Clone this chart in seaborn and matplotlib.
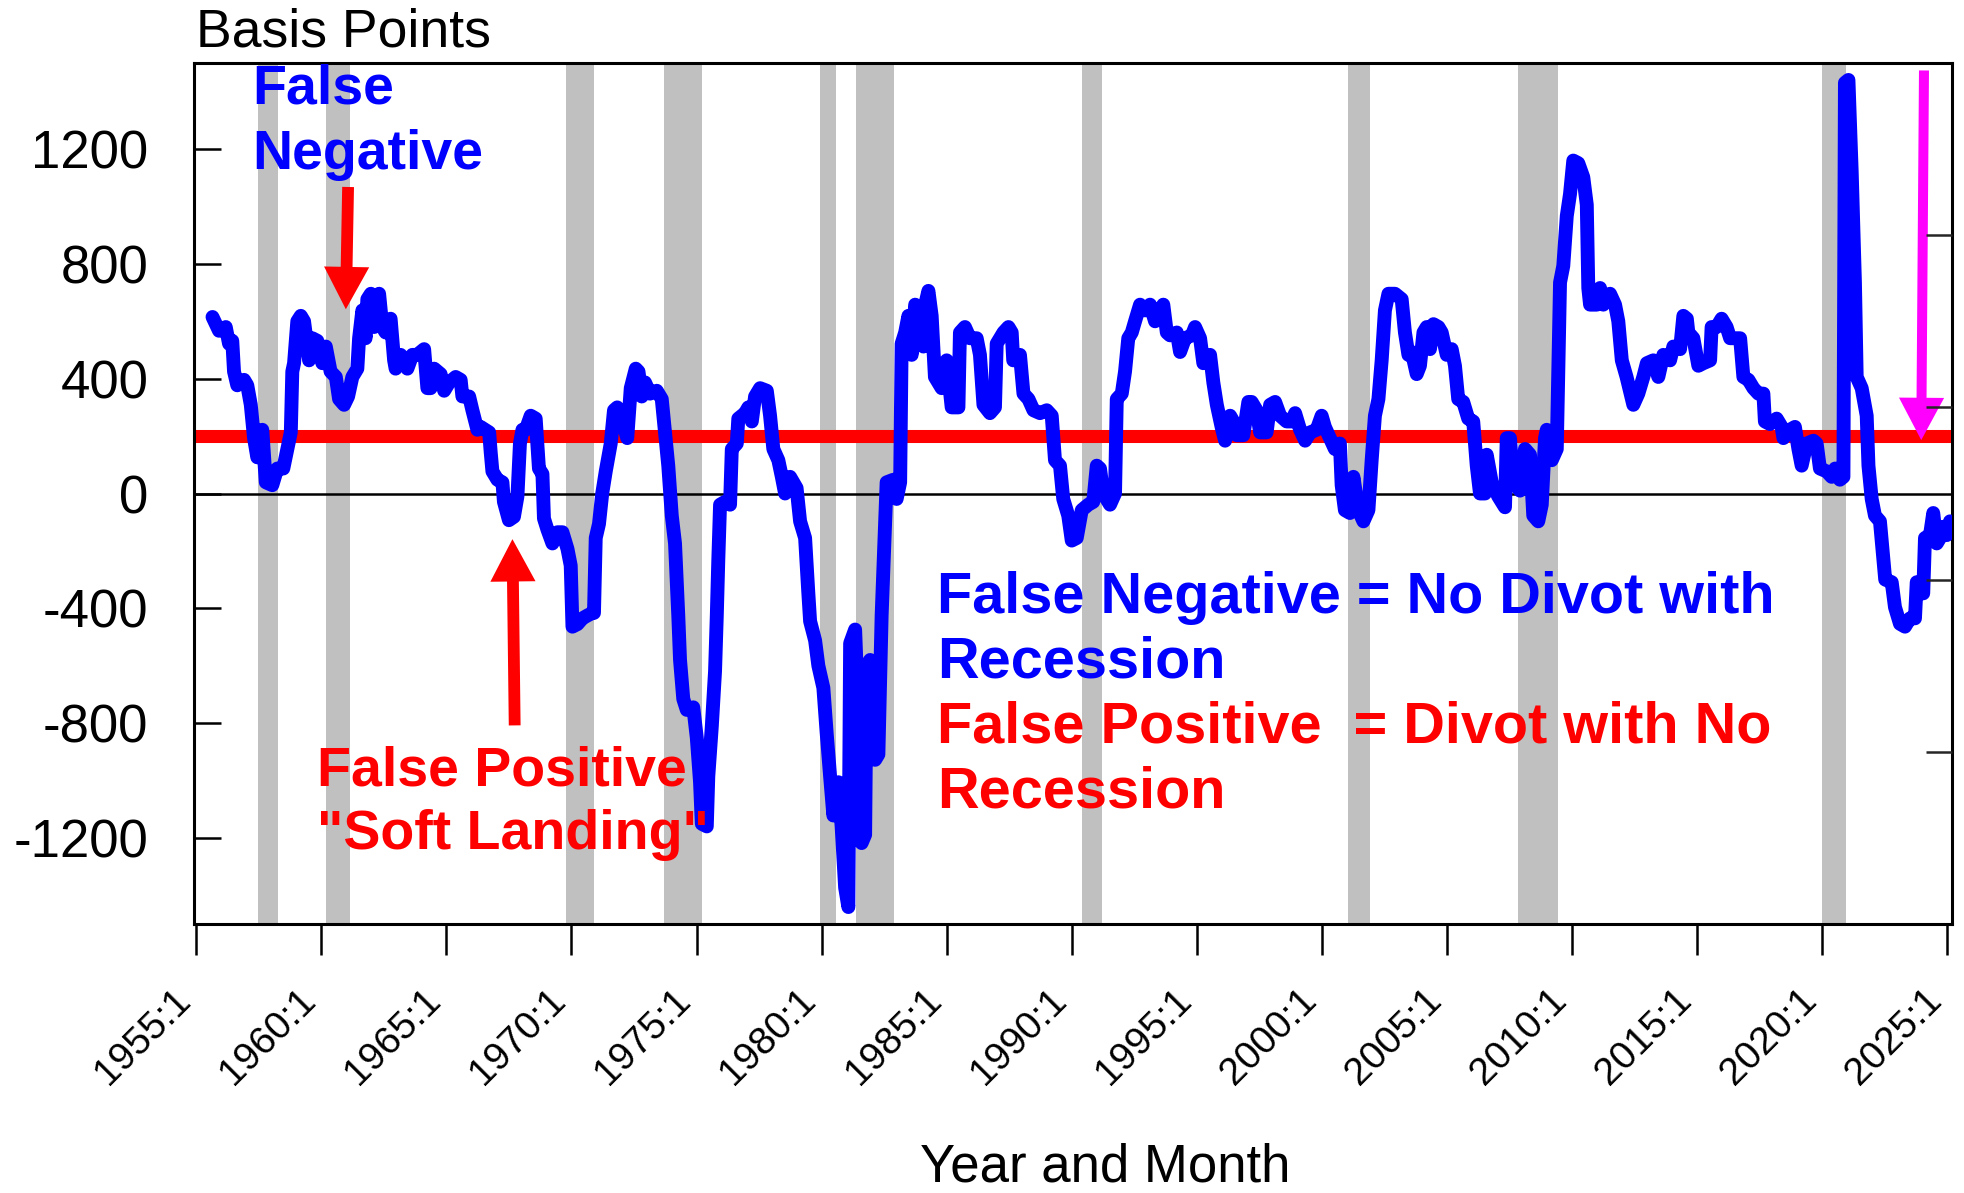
import matplotlib
matplotlib.use("Agg")
import matplotlib.pyplot as plt
import matplotlib.transforms as mtransforms
import numpy as np
import pandas as pd
import seaborn as sns

# ---- data ----
t = [1955.65, 1955.91, 1956.18, 1956.31, 1956.44, 1956.51, 1956.64, 1956.91, 1957.04, 1957.18,
     1957.31, 1957.44, 1957.64, 1957.78, 1958.04, 1958.24, 1958.48, 1958.64, 1958.78, 1958.84,
     1958.91, 1959.04, 1959.18, 1959.31, 1959.51, 1959.64, 1959.84, 1960.04, 1960.18, 1960.37,
     1960.58, 1960.71, 1960.91, 1961.07, 1961.24, 1961.44, 1961.51, 1961.64, 1961.77, 1961.84,
     1961.98, 1962.11, 1962.24, 1962.31, 1962.44, 1962.57, 1962.77, 1962.91, 1962.97, 1963.17,
     1963.44, 1963.64, 1963.84, 1963.97, 1964.11, 1964.24, 1964.37, 1964.51, 1964.77, 1964.91,
     1965.11, 1965.37, 1965.57, 1965.64, 1965.91, 1966.04, 1966.24, 1966.37, 1966.71, 1966.77,
     1966.84, 1967.04, 1967.24, 1967.30, 1967.50, 1967.70, 1967.84, 1967.94, 1968.04, 1968.17,
     1968.37, 1968.57, 1968.70, 1968.84, 1968.90, 1969.04, 1969.24, 1969.44, 1969.64, 1969.84,
     1969.97, 1970.04, 1970.24, 1970.44, 1970.64, 1970.84, 1970.90, 1970.97, 1971.10, 1971.23,
     1971.37, 1971.57, 1971.70, 1971.83, 1972.10, 1972.23, 1972.37, 1972.57, 1972.68, 1972.81,
     1972.94, 1973.14, 1973.41, 1973.61, 1973.74, 1973.87, 1974.01, 1974.14, 1974.27, 1974.34,
     1974.47, 1974.61, 1974.87, 1975.01, 1975.14, 1975.21, 1975.41, 1975.47, 1975.61, 1975.74,
     1975.81, 1975.87, 1975.94, 1976.14, 1976.34, 1976.41, 1976.61, 1976.67, 1976.94, 1977.07,
     1977.21, 1977.34, 1977.54, 1977.81, 1977.94, 1978.07, 1978.27, 1978.41, 1978.54, 1978.74,
     1979.00, 1979.14, 1979.34, 1979.47, 1979.54, 1979.74, 1979.87, 1980.07, 1980.20, 1980.34,
     1980.47, 1980.67, 1980.80, 1980.94, 1981.07, 1981.14, 1981.34, 1981.47, 1981.60, 1981.74,
     1981.80, 1981.94, 1982.14, 1982.27, 1982.40, 1982.54, 1982.60, 1982.87, 1983.00, 1983.14,
     1983.20, 1983.34, 1983.47, 1983.60, 1983.74, 1983.87, 1984.07, 1984.14, 1984.27, 1984.40,
     1984.53, 1984.80, 1985.00, 1985.20, 1985.47, 1985.53, 1985.73, 1985.93, 1986.20, 1986.33,
     1986.47, 1986.73, 1986.93, 1987.00, 1987.27, 1987.47, 1987.60, 1987.66, 1987.93, 1988.07,
     1988.27, 1988.47, 1988.73, 1989.00, 1989.20, 1989.33, 1989.53, 1989.66, 1989.86, 1990.00,
     1990.20, 1990.40, 1990.66, 1990.86, 1991.00, 1991.13, 1991.26, 1991.53, 1991.73, 1991.80,
     1992.00, 1992.13, 1992.26, 1992.40, 1992.53, 1992.73, 1992.93, 1993.13, 1993.33, 1993.53,
     1993.66, 1993.80, 1993.93, 1994.20, 1994.33, 1994.53, 1994.80, 1994.93, 1995.13, 1995.26,
     1995.53, 1995.66, 1995.80, 1995.99, 1996.13, 1996.33, 1996.46, 1996.60, 1996.86, 1997.06,
     1997.19, 1997.39, 1997.53, 1997.79, 1997.93, 1998.13, 1998.33, 1998.59, 1998.79, 1998.93,
     1999.13, 1999.33, 1999.53, 1999.79, 1999.99, 2000.12, 2000.32, 2000.52, 2000.72, 2000.79,
     2000.92, 2001.12, 2001.26, 2001.46, 2001.66, 2001.86, 2001.99, 2002.12, 2002.26, 2002.39,
     2002.52, 2002.66, 2002.92, 2003.19, 2003.32, 2003.46, 2003.59, 2003.79, 2003.92, 2004.06,
     2004.19, 2004.32, 2004.46, 2004.66, 2004.79, 2004.99, 2005.19, 2005.32, 2005.45, 2005.65,
     2005.85, 2006.05, 2006.19, 2006.32, 2006.52, 2006.59, 2006.79, 2007.05, 2007.32, 2007.39,
     2007.52, 2007.65, 2007.92, 2008.12, 2008.32, 2008.45, 2008.65, 2008.79, 2008.92, 2008.99,
     2009.19, 2009.39, 2009.52, 2009.65, 2009.79, 2009.92, 2010.05, 2010.25, 2010.45, 2010.59,
     2010.65, 2010.72, 2010.99, 2011.12, 2011.25, 2011.52, 2011.72, 2011.85, 2011.99, 2012.18,
     2012.45, 2012.65, 2012.85, 2012.99, 2013.25, 2013.45, 2013.65, 2013.92, 2014.05, 2014.32,
     2014.45, 2014.59, 2014.65, 2014.85, 2015.05, 2015.25, 2015.52, 2015.58, 2015.78, 2015.98,
     2016.18, 2016.32, 2016.52, 2016.72, 2016.85, 2017.05, 2017.25, 2017.45, 2017.65, 2017.71,
     2017.91, 2018.18, 2018.38, 2018.45, 2018.71, 2018.91, 2019.05, 2019.18, 2019.38, 2019.65,
     2019.78, 2019.91, 2020.18, 2020.38, 2020.52, 2020.71, 2020.85, 2020.91, 2021.05, 2021.18,
     2021.31, 2021.38, 2021.58, 2021.78, 2021.85, 2021.98, 2022.11, 2022.31, 2022.45, 2022.52,
     2022.78, 2022.91, 2023.11, 2023.31, 2023.51, 2023.71, 2023.78, 2024.04, 2024.11, 2024.31,
     2024.44, 2024.58, 2024.71, 2024.84, 2024.98, 2025.11]
spread_bp = [615, 567, 580, 522, 532, 425, 377, 396, 377, 309,
             193, 126, 222, 39, 29, 87, 87, 155, 213, 425,
             454, 600, 619, 600, 464, 541, 532, 454, 512, 425,
             406, 329, 309, 338, 406, 435, 541, 638, 541, 677,
             696, 580, 687, 696, 580, 561, 609, 464, 435, 483,
             435, 483, 483, 493, 503, 367, 367, 435, 416, 358,
             387, 406, 396, 338, 338, 290, 222, 232, 213, 145,
             77, 48, 39, -29, -93, -81, -10, 174, 222, 222,
             271, 261, 87, 68, -87, -126, -174, -135, -135, -193,
             -251, -464, -455, -435, -425, -416, -416, -155, -106, 0,
             77, 174, 290, 300, 232, 193, 367, 435, 425, 338,
             387, 348, 358, 329, 213, 97, -77, -174, -425, -580,
             -716, -754, -745, -851, -1006, -1151, -1160, -986, -812, -619,
             -425, -232, -39, -29, -39, 155, 174, 261, 280, 300,
             251, 338, 367, 358, 271, 155, 116, 58, 0, 58,
             19, -97, -155, -348, -445, -512, -600, -677, -832, -986,
             -1122, -1006, -1160, -1373, -1441, -522, -474, -774, -1218, -1189,
             -600, -580, -928, -909, -425, -97, 39, 48, -19, 39,
             522, 561, 619, 483, 658, 600, 512, 658, 706, 619,
             406, 367, 464, 300, 300, 561, 580, 541, 541, 483,
             309, 280, 300, 522, 561, 580, 561, 464, 483, 348,
             329, 290, 280, 290, 271, 116, 97, -19, -77, -164,
             -155, -58, -39, -29, 97, 87, 0, -39, 0, 329,
             348, 425, 541, 561, 600, 658, 638, 658, 600, 638,
             658, 561, 551, 561, 493, 541, 551, 580, 541, 454,
             483, 387, 309, 232, 184, 271, 251, 203, 203, 319,
             319, 290, 213, 213, 309, 319, 271, 251, 251, 280,
             222, 184, 213, 222, 271, 232, 193, 155, 174, 29,
             -58, -68, 58, -58, -97, -58, 116, 271, 329, 464,
             638, 696, 696, 677, 561, 483, 493, 416, 445, 561,
             580, 503, 590, 580, 561, 483, 503, 445, 329, 319,
             261, 251, 97, 0, 0, 135, 39, -10, -48, 193,
             193, 39, 10, 155, 135, -77, -97, -39, 193, 222,
             116, 155, 735, 793, 967, 1044, 1160, 1151, 1102, 1006,
             716, 658, 658, 716, 658, 696, 658, 600, 464, 406,
             309, 348, 406, 454, 464, 406, 483, 464, 512, 503,
             619, 609, 561, 541, 445, 454, 464, 580, 580, 609,
             580, 541, 541, 541, 406, 396, 367, 348, 348, 251,
             242, 261, 232, 193, 222, 232, 155, 97, 174, 184,
             174, 87, 77, 58, 87, 48, 58, 1431, 1441, 1122,
             735, 406, 367, 271, 97, -19, -77, -97, -232, -300,
             -309, -396, -454, -464, -435, -435, -309, -348, -155, -145,
             -68, -174, -155, -116, -145, -97]

rec_start = [1957.47, 1960.19, 1969.78, 1973.70, 1979.94, 1981.38, 1990.41, 2001.04, 2007.84, 2019.99]
rec_end = [1958.27, 1961.15, 1970.90, 1975.22, 1980.58, 1982.90, 1991.21, 2001.92, 2009.44, 2020.95]

threshold_bp = 200
ytick_values = [-1200, -800, -400, 0, 400, 800, 1200]
xtick_years = list(range(1955, 2026, 5))
xtick_labels = [f"{y}:1" for y in xtick_years]

# ---- style ----
sns.set_style("white")
plt.rcParams["font.family"] = ["Liberation Sans", "DejaVu Sans"]

W, H = 1965, 1193
fig = plt.figure(figsize=(W / 100, H / 100), dpi=100)
L, R, T, B = 194, 1952, 63, 924
ax = fig.add_axes([L / W, 1 - B / H, (R - L) / W, (B - T) / H])

for s, e in zip(rec_start, rec_end):
    ax.axvspan(s, e, color="#c0c0c0", lw=0, zorder=0)

ax.axhline(0, color="black", lw=1.8, zorder=1)
ax.axhline(threshold_bp, color="#ff0000", lw=9.4, zorder=2)

df = pd.DataFrame({"t": t, "v": spread_bp})
sns.lineplot(data=df, x="t", y="v", ax=ax, color="#0000ff", lw=10,
             sort=False, estimator=None, zorder=3,
             solid_capstyle="round", solid_joinstyle="round")

ax.set_xlim(1954.91, 2025.19)
ax.set_ylim(-1500, 1500)
ax.set_xlabel("")
ax.set_ylabel("")
for sp in ax.spines.values():
    sp.set_visible(True)
    sp.set_color("black")
    sp.set_linewidth(2.2)

ax.set_yticks(ytick_values)
ax.set_yticklabels([str(v) for v in ytick_values])
ax.tick_params(axis="y", direction="in", length=19.5, width=1.8, labelsize=38,
               pad=33, colors="black", left=True, right=False)
ax.set_xticks(xtick_years)
ax.set_xticklabels(xtick_labels, rotation=45, ha="right", va="baseline",
                   rotation_mode="anchor")
ax.tick_params(axis="x", direction="out", length=22, width=1.8, labelsize=28,
               pad=34, colors="black", bottom=True)
shift = mtransforms.ScaledTranslation(-4 / 100, 0, fig.dpi_scale_trans)
for lab in ax.get_xticklabels():
    lab.set_transform(lab.get_transform() + shift)

ax2 = ax.twinx()
ax2.set_ylim(0, 5)
ax2.set_yticks([1, 2, 3, 4])
ax2.tick_params(axis="y", direction="in", length=19, width=1.8, labelright=False,
                right=True)
ax2.set_yticklabels([])
for sp in ax2.spines.values():
    sp.set_visible(False)
ax2.grid(False)

# ---- arrows ----
def arrow(tail, tip, color, tw):
    ax.annotate("", xy=tip, xytext=tail, xycoords="data", textcoords="data",
                arrowprops=dict(arrowstyle=f"simple,head_length=3.05,head_width=3.25,tail_width={tw}",
                                mutation_scale=10, color=color, lw=0,
                                shrinkA=0, shrinkB=0), zorder=5)

arrow((1961.07, 1068), (1960.98, 642), "#ff0000", 0.85)
arrow((1967.73, -808), (1967.64, -159), "#ff0000", 0.85)
arrow((2024.07, 1474), (2023.96, 186), "#ff00ff", 0.72)

# ---- texts ----
fs = 40
x_fn, x_fp, x_blk = 1957.22, 1959.82, 1984.62
ax.text(x_fn, 1358, "False", color="#0000ff", fontsize=fs, fontweight="bold", va="baseline", zorder=6)
ax.text(x_fn, 1132, "Negative", color="#0000ff", fontsize=fs, fontweight="bold", va="baseline", zorder=6)
ax.text(x_fp, -1016, "False Positive", color="#ff0000", fontsize=fs, fontweight="bold", va="baseline", zorder=6)
ax.text(x_fp, -1238, "\"Soft Landing\"", color="#ff0000", fontsize=fs, fontweight="bold", va="baseline", zorder=6)
ax.text(x_blk, -416, "False Negative = No Divot with", color="#0000ff", fontsize=41.5, fontweight="bold", va="baseline", zorder=6)
ax.text(x_blk, -642, "Recession", color="#0000ff", fontsize=41.5, fontweight="bold", va="baseline", zorder=6)
ax.text(x_blk, -867, "False Positive  = Divot with No", color="#ff0000", fontsize=41.5, fontweight="bold", va="baseline", zorder=6)
ax.text(x_blk, -1093, "Recession", color="#ff0000", fontsize=41.5, fontweight="bold", va="baseline", zorder=6)

fig.text(196 / W, 1 - 46.5 / H, "Basis Points", fontsize=38.5, color="black", va="baseline", ha="left")
fig.text(1105 / W, 1 - 1182 / H, "Year and Month", fontsize=38, color="black", va="baseline", ha="center")

fig.savefig("out.png", dpi=100)
